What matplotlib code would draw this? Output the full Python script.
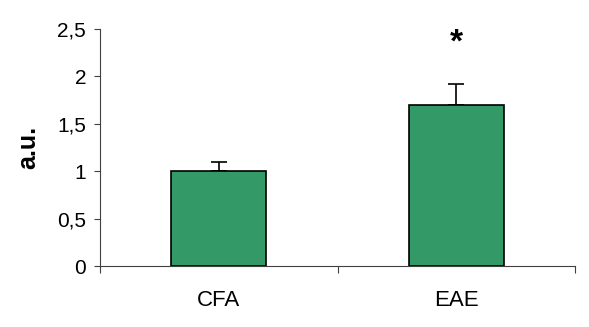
import numpy as np
import matplotlib
matplotlib.use("Agg")
import matplotlib.pyplot as plt
from matplotlib.ticker import FuncFormatter

plt.rcParams['font.family'] = ['Liberation Sans', 'DejaVu Sans']

groups = ["CFA", "EAE"]
means = [1.0, 1.7]
sem = [0.1, 0.22]
star_y = 2.35
yticks = [0, 0.5, 1, 1.5, 2, 2.5]

fig = plt.figure(figsize=(5.89, 3.27), dpi=100)
ax = fig.add_axes([0.1698, 0.1865, 0.8065, 0.7245])

x = np.arange(len(groups))
ax.bar(x, means, width=0.4, color="#339966", edgecolor="black", linewidth=1.2, zorder=2)
# upper half of the error bars only
ax.errorbar(x, means, yerr=[np.zeros(len(sem)), sem], fmt="none", ecolor="black",
            elinewidth=1.2, capsize=6, capthick=1.2, zorder=1)

ax.text(x[1], star_y, "*", ha="center", va="center", fontsize=24, fontweight="bold")

ax.set_xlim(-0.5, len(groups) - 0.5)
ax.set_ylim(0, 2.5)
ax.set_yticks(yticks)
ax.yaxis.set_major_formatter(FuncFormatter(lambda v, p: ("%g" % v).replace(".", ",")))

ax.set_xticks(x)
ax.set_xticklabels(groups, fontsize=16)
ax.tick_params(axis="x", which="major", length=0, pad=17)
ax.set_xticks(np.arange(-0.5, len(groups)), minor=True)
ax.tick_params(axis="x", which="minor", length=5, width=0.8, color="#404040")
ax.tick_params(axis="y", labelsize=15, length=4, width=0.8, color="#404040", pad=6)

for side in ["top", "right"]:
    ax.spines[side].set_visible(False)
for side in ["left", "bottom"]:
    ax.spines[side].set_color("#404040")
    ax.spines[side].set_linewidth(0.8)

ax.set_ylabel("a.u.", fontsize=18, fontweight="bold", labelpad=12)

fig.savefig("out.png", dpi=100)
